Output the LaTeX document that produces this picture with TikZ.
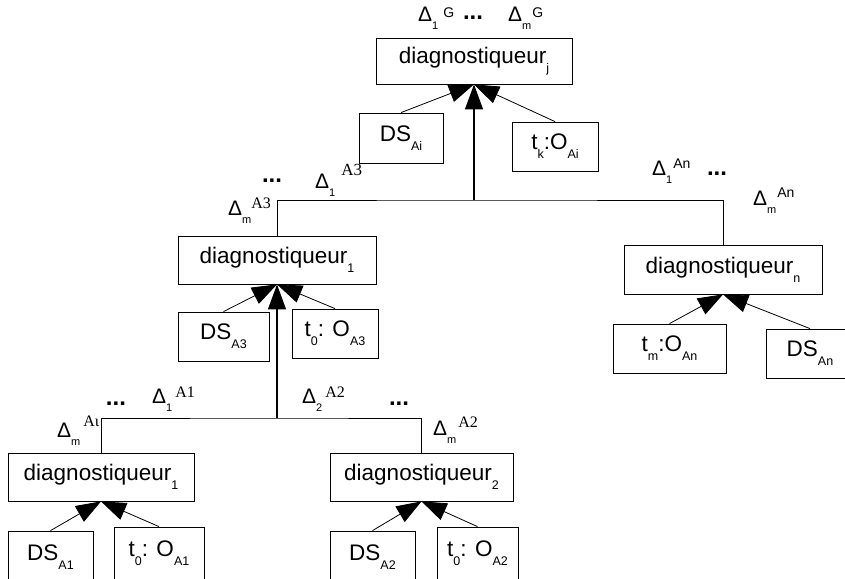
\documentclass[tikz,border=0pt]{standalone}
\usepackage{fontspec}
\setmainfont{Liberation Sans}
\newfontfamily\tnr{Liberation Serif}
\usetikzlibrary{arrows.meta}
\newcommand{\lo}[1]{\raisebox{-9pt}{\fontsize{12.5}{12.5}\selectfont #1}}
\newcommand{\dsub}[1]{\raisebox{-8pt}{\fontsize{11}{11}\selectfont #1}}
\newcommand{\dsup}[2][5pt]{\raisebox{#1}{\fontsize{14}{14}\selectfont #2}}
\newcommand{\tsup}[2][6pt]{\raisebox{#1}{\fontsize{16}{16}\selectfont\tnr #2}}

\begin{document}
\begin{tikzpicture}[x=1pt,y=-1pt,
    box/.style={draw, line width=0.8pt, inner sep=0pt, minimum height=49,
      font=\fontsize{22.5}{22.5}\selectfont},
    lbl/.style={anchor=base west, inner sep=0pt, font=\fontsize{21}{21}\selectfont},
    dots/.style={anchor=base, inner sep=0pt, font=\fontsize{24}{24}\selectfont\bfseries},
    tri/.style={line width=0.8pt, -{Triangle[length=25pt,width=18pt]}}]
  \clip (0,0) rectangle (845,578);

  % boxes
  \node[box, minimum width=196, minimum height=46] (diagj) at (474,61) {diagnostiqueur\lo{j}};
  \node[box, minimum width=84, minimum height=50] (dsai) at (401,138) {DS\lo{Ai}};
  \node[box, minimum width=86] (tkai) at (555,146.5) {t\lo{k}:O\lo{Ai}};

  \node[box, minimum width=198, minimum height=48] (diagm) at (277,260) {diagnostiqueur\lo{1}};
  \node[box, minimum width=91] (dsa3) at (223.5,336.5) {DS\lo{A3}};
  \node[box, minimum width=86] (ta3) at (335,333.5) {t\lo{0}: O\lo{A3}};

  \node[box, minimum width=198] (diagn) at (723,269.5) {diagnostiqueur\lo{n}};
  \node[box, minimum width=113] (tan) at (669.5,348.5) {t\lo{m}:O\lo{An}};
  \node[box, minimum width=88] (dsan) at (810,353.5) {DS\lo{An}};

  \node[box, minimum width=186, minimum height=48] (diaga) at (101,477) {diagnostiqueur\lo{1}};
  \node[box, minimum width=85, minimum height=52] (dsa1) at (50.5,557) {DS\lo{A1}};
  \node[box, minimum width=90, minimum height=52] (ta1) at (159,553) {t\lo{0}: O\lo{A1}};

  \node[box, minimum width=183, minimum height=48] (diagb) at (421.5,477) {diagnostiqueur\lo{2}};
  \node[box, minimum width=85, minimum height=52] (dsa2) at (372.5,557) {DS\lo{A2}};
  \node[box, minimum width=81, minimum height=52] (ta2) at (477.5,553) {t\lo{0}: O\lo{A2}};

  % labels
  \node[lbl] (g1) at (418,22) {Δ\dsub{1}\hspace{5pt}\dsup[4pt]{G}};
  \node[dots] (gd) at (473,20) {...};
  \node[lbl] (gm) at (508,22) {Δ\dsub{m}\hspace{1pt}\dsup[4pt]{G}};

  \node[lbl] (a31) at (315,188) {Δ\dsub{1}\hspace{6pt}\tsup[13pt]{\fontsize{17}{17}\selectfont A3}};
  \node[dots] (a3d) at (272,182) {...};
  \node[lbl] (a3m) at (228,215) {Δ\dsub{m}\tsup[7pt]{A3}};

  \node[lbl] (an1) at (652,175) {Δ\dsub{1}\hspace{1pt}\dsup[7pt]{An}};
  \node[dots] (and) at (717,175) {...};
  \node[lbl] (anm) at (753,205) {Δ\dsub{m}\hspace{1pt}\dsup[8pt]{An}};

  \node[lbl] (a11) at (152,403) {Δ\dsub{1}\hspace{3pt}\tsup{A1}};
  \node[dots] (a1d) at (116,405) {...};
  \node[lbl] (a1m) at (57,437) {Δ\dsub{m}\hspace{3pt}\tsup[11pt]{Aι}};

  \node[lbl] (a22) at (302,403) {Δ\dsub{2}\hspace{3pt}\tsup{A2}};
  \node[dots] (a2d) at (399,405) {...};
  \node[lbl] (a2m) at (433,435) {Δ\dsub{m}\hspace{2pt}\tsup[8pt]{A2}};

  % connectors
  \coordinate (barG) at (474,200);
  \coordinate (barM) at (277,418);
  \draw[line width=0.8pt] (diagm.north) |- (barG) -| (diagn.north);
  \draw[line width=0.8pt] (diaga.north) |- (barM) -| (diagb.north);

  \path[tri]
    (dsai.north) edge (diagj.south)
    (tkai.north) edge (diagj.south)
    (barG) edge[line width=1.2pt] (diagj.south)
    (dsa3.north) edge (diagm.south)
    (ta3.north) edge (diagm.south)
    (barM) edge[line width=1.2pt] (diagm.south)
    (tan.north) edge (diagn.south)
    (dsan.north) edge (diagn.south)
    (dsa1.north) edge (diaga.south)
    (ta1.north) edge (diaga.south)
    (dsa2.north) edge (diagb.south)
    (ta2.north) edge (diagb.south);
\end{tikzpicture}
\end{document}
